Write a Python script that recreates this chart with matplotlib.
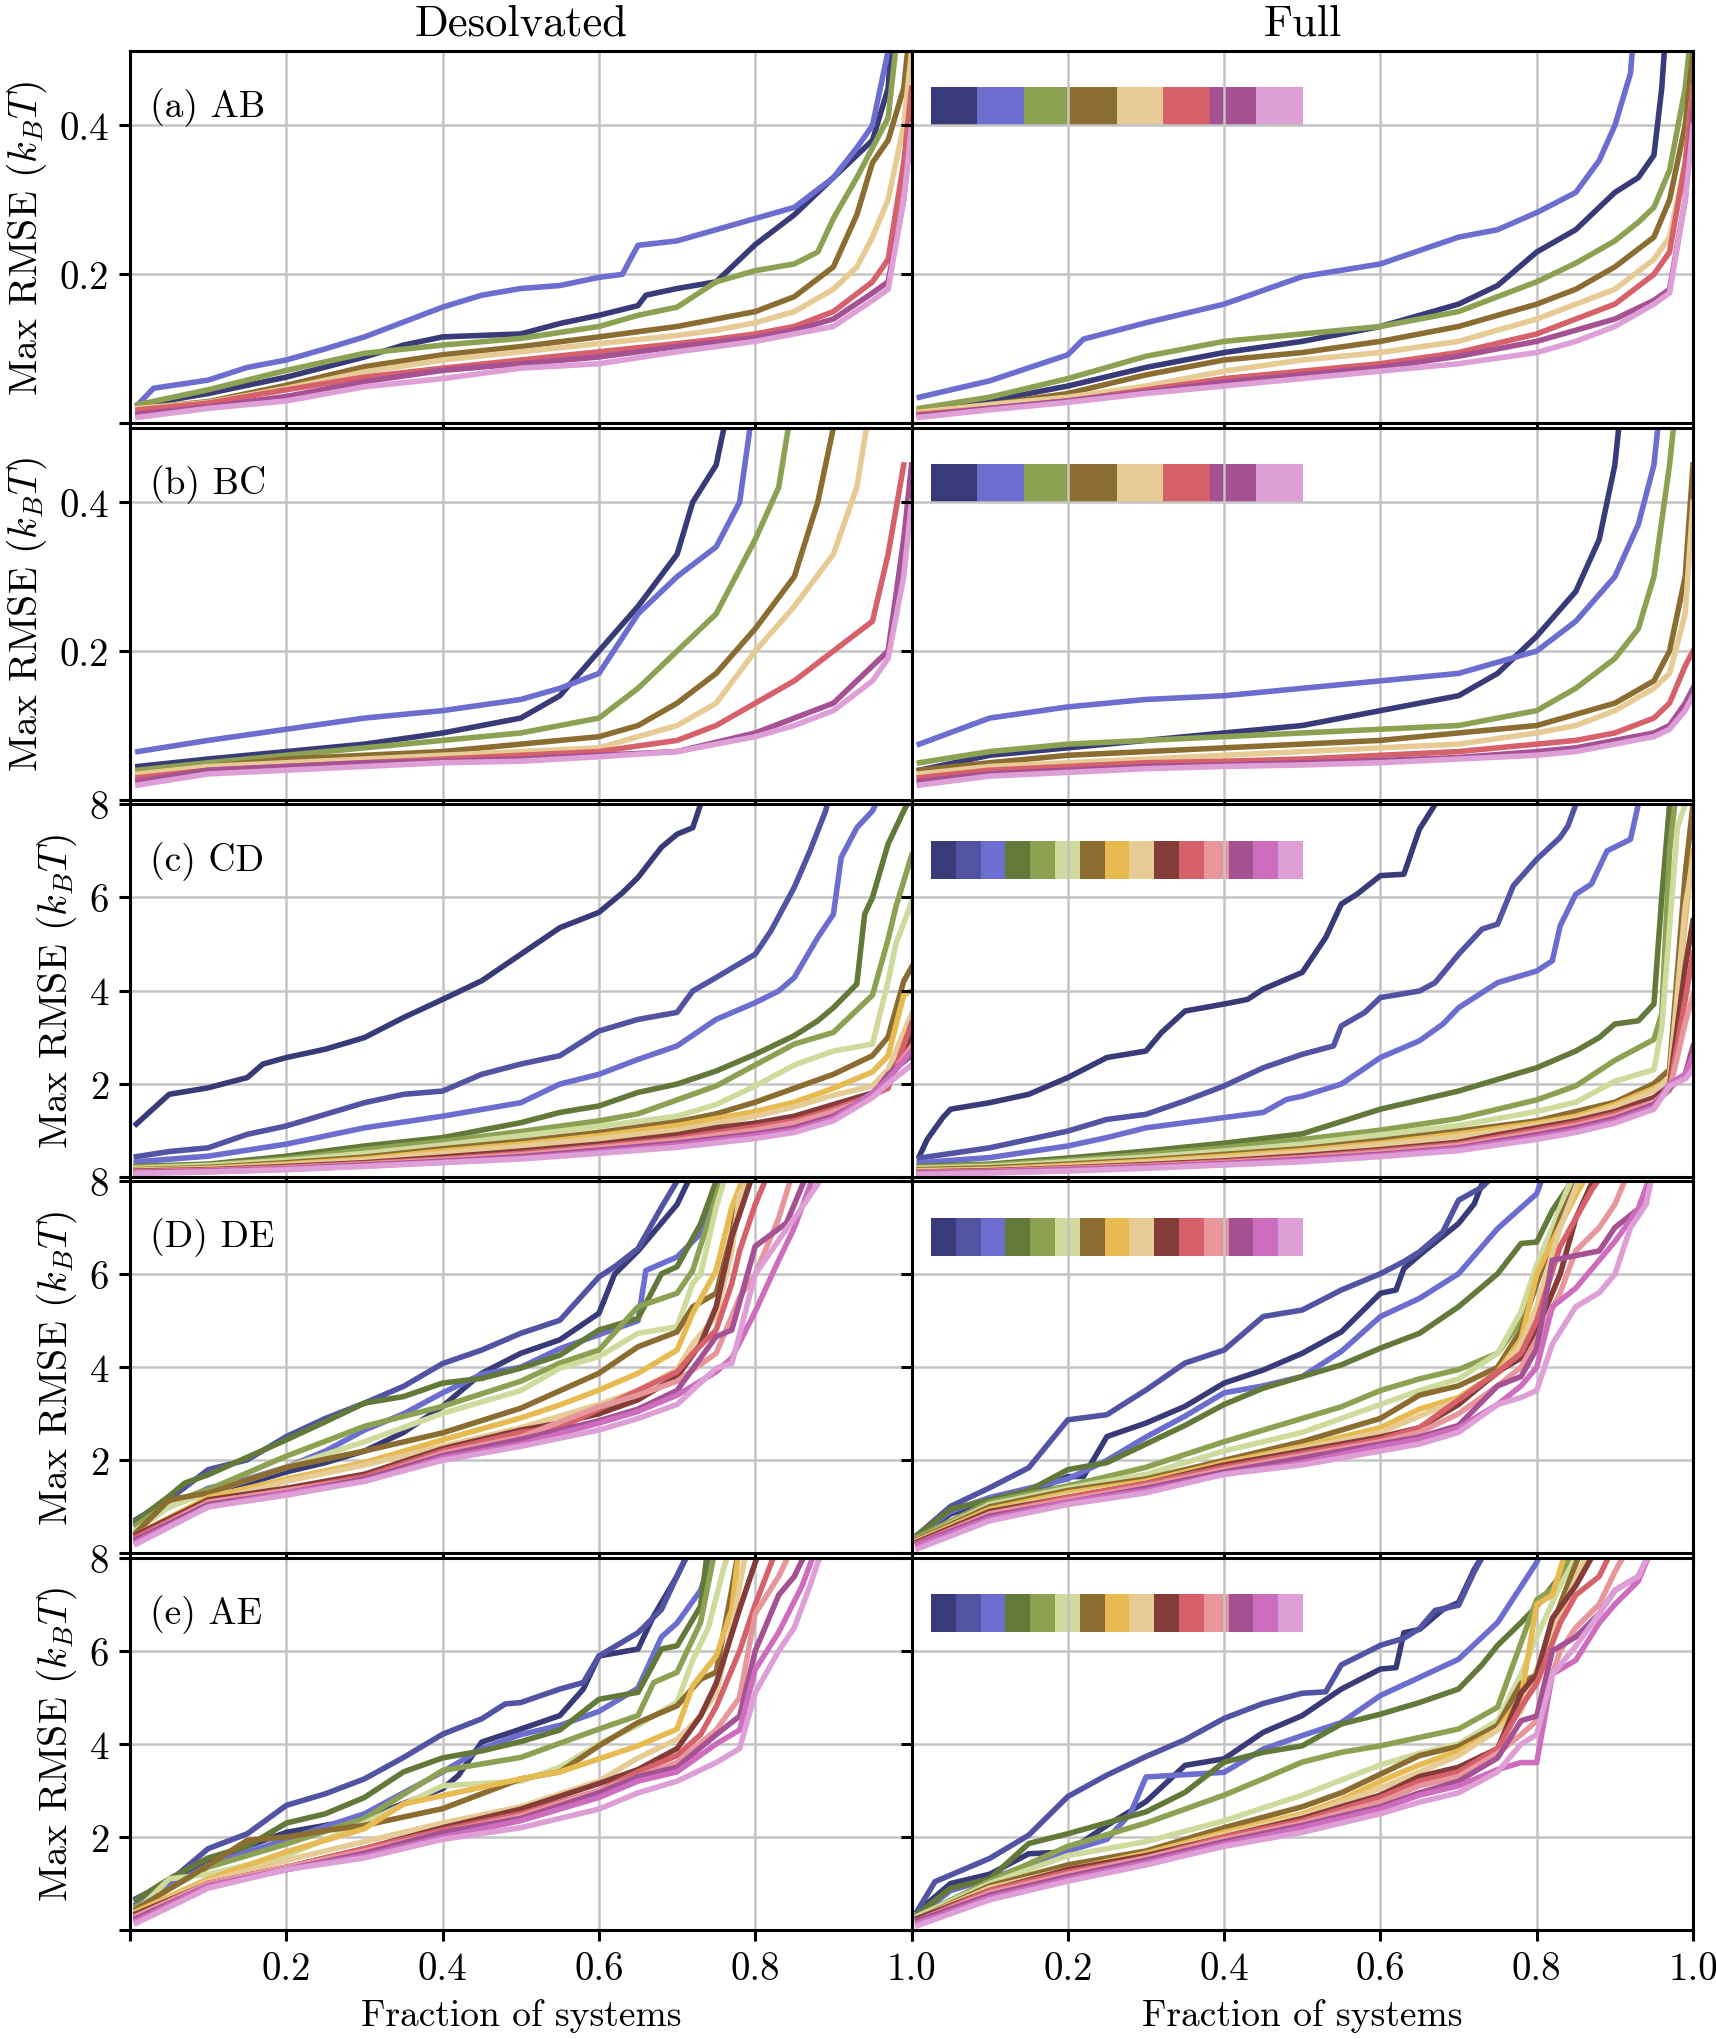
import matplotlib
matplotlib.use('Agg')
import matplotlib.pyplot as plt
from matplotlib.colors import ListedColormap
import numpy as np

## 1. Style
plt.rcParams['font.family'] = 'serif'
plt.rcParams['font.serif'] = ['cmr10', 'DejaVu Serif']
plt.rcParams['mathtext.fontset'] = 'cm'
plt.rcParams['axes.unicode_minus'] = False
plt.rcParams['font.size'] = 13.5

## 2. Data (x = fraction of systems, y = max RMSE)
col_titles = ['Desolvated', 'Full']
row_labels = ['(a) AB', '(b) BC', '(c) CD', '(D) DE', '(e) AE']
ylabel = 'Max RMSE ($k_BT$)'
xlabel = 'Fraction of systems'

# colours come from tab20b
IDX8 = [0, 2, 5, 8, 11, 14, 17, 19]
IDX15 = [0, 1, 2, 4, 5, 7, 8, 10, 11, 12, 14, 15, 17, 18, 19]

AB_DESOLV = [
    [(0.01,0.024),(0.1,0.04),(0.2,0.062),(0.3,0.089),(0.35,0.105),(0.4,0.116),(0.5,0.12),(0.55,0.134),(0.6,0.145),(0.65,0.158),(0.66,0.172),(0.7,0.181),(0.75,0.19),(0.8,0.24),(0.85,0.28),(0.9,0.33),(0.95,0.38),(0.97,0.45),(0.98,0.6)],
    [(0.01,0.025),(0.03,0.047),(0.1,0.058),(0.15,0.075),(0.2,0.085),(0.25,0.10),(0.3,0.116),(0.35,0.136),(0.4,0.156),(0.45,0.172),(0.5,0.181),(0.55,0.185),(0.6,0.196),(0.63,0.2),(0.64,0.22),(0.65,0.239),(0.7,0.245),(0.75,0.26),(0.8,0.275),(0.85,0.29),(0.9,0.33),(0.93,0.37),(0.95,0.40),(0.97,0.5),(0.98,0.6)],
    [(0.01,0.025),(0.1,0.045),(0.2,0.071),(0.3,0.094),(0.4,0.105),(0.5,0.114),(0.6,0.13),(0.65,0.145),(0.7,0.156),(0.75,0.19),(0.8,0.205),(0.85,0.214),(0.88,0.23),(0.9,0.275),(0.93,0.33),(0.95,0.37),(0.97,0.41),(0.99,0.6)],
    [(0.01,0.02),(0.1,0.029),(0.2,0.051),(0.3,0.076),(0.4,0.092),(0.5,0.103),(0.6,0.116),(0.7,0.13),(0.75,0.14),(0.8,0.15),(0.85,0.17),(0.9,0.21),(0.93,0.28),(0.95,0.35),(0.97,0.38),(0.99,0.45),(1.0,0.55)],
    [(0.01,0.02),(0.1,0.028),(0.2,0.047),(0.3,0.069),(0.4,0.085),(0.5,0.096),(0.6,0.107),(0.7,0.118),(0.75,0.125),(0.8,0.135),(0.85,0.15),(0.9,0.18),(0.93,0.21),(0.95,0.25),(0.97,0.30),(0.99,0.40),(1.0,0.5)],
    [(0.01,0.018),(0.1,0.027),(0.2,0.045),(0.3,0.062),(0.4,0.074),(0.5,0.085),(0.6,0.096),(0.7,0.107),(0.75,0.113),(0.8,0.12),(0.85,0.13),(0.9,0.15),(0.95,0.19),(0.97,0.22),(0.99,0.35),(1.0,0.45)],
    [(0.01,0.012),(0.1,0.022),(0.2,0.036),(0.3,0.056),(0.4,0.071),(0.5,0.08),(0.6,0.089),(0.7,0.103),(0.8,0.115),(0.85,0.125),(0.9,0.14),(0.95,0.175),(0.97,0.19),(0.99,0.3),(1.0,0.4)],
    [(0.01,0.008),(0.1,0.02),(0.2,0.03),(0.3,0.049),(0.4,0.06),(0.5,0.074),(0.6,0.08),(0.7,0.096),(0.8,0.11),(0.85,0.12),(0.9,0.13),(0.95,0.165),(0.97,0.18),(0.99,0.3),(1.0,0.4)],
]
AB_FULL = [
    [(0.01,0.015),(0.1,0.03),(0.2,0.05),(0.3,0.075),(0.4,0.095),(0.5,0.11),(0.6,0.13),(0.7,0.16),(0.75,0.185),(0.8,0.23),(0.85,0.26),(0.9,0.31),(0.93,0.33),(0.95,0.36),(0.96,0.45),(0.97,0.6)],
    [(0.01,0.035),(0.1,0.057),(0.2,0.092),(0.22,0.113),(0.3,0.135),(0.4,0.16),(0.5,0.197),(0.6,0.214),(0.7,0.25),(0.75,0.26),(0.8,0.283),(0.85,0.31),(0.88,0.353),(0.9,0.4),(0.92,0.47),(0.93,0.6)],
    [(0.01,0.02),(0.1,0.035),(0.2,0.06),(0.3,0.09),(0.4,0.11),(0.5,0.12),(0.6,0.13),(0.7,0.15),(0.8,0.19),(0.85,0.215),(0.9,0.245),(0.93,0.27),(0.95,0.29),(0.97,0.34),(0.99,0.45),(1.0,0.55)],
    [(0.01,0.015),(0.1,0.025),(0.2,0.04),(0.3,0.065),(0.4,0.085),(0.5,0.095),(0.6,0.11),(0.7,0.13),(0.8,0.16),(0.85,0.18),(0.9,0.21),(0.95,0.25),(0.97,0.3),(0.99,0.4),(1.0,0.5)],
    [(0.01,0.015),(0.1,0.025),(0.2,0.035),(0.3,0.05),(0.4,0.07),(0.5,0.085),(0.6,0.095),(0.7,0.11),(0.8,0.14),(0.85,0.16),(0.9,0.18),(0.95,0.22),(0.97,0.25),(0.99,0.35),(1.0,0.45)],
    [(0.01,0.012),(0.1,0.02),(0.2,0.03),(0.3,0.045),(0.4,0.06),(0.5,0.07),(0.6,0.08),(0.7,0.095),(0.8,0.12),(0.85,0.14),(0.9,0.16),(0.95,0.2),(0.97,0.23),(0.99,0.35),(1.0,0.45)],
    [(0.01,0.01),(0.1,0.02),(0.2,0.03),(0.3,0.042),(0.4,0.055),(0.5,0.065),(0.6,0.075),(0.7,0.09),(0.8,0.11),(0.85,0.125),(0.9,0.14),(0.95,0.165),(0.97,0.18),(0.99,0.3),(1.0,0.42)],
    [(0.01,0.008),(0.1,0.018),(0.2,0.028),(0.3,0.04),(0.4,0.05),(0.5,0.06),(0.6,0.07),(0.7,0.08),(0.8,0.095),(0.85,0.11),(0.9,0.13),(0.95,0.16),(0.97,0.175),(0.99,0.3),(1.0,0.4)],
]
BC_DESOLV = [
    [(0.01,0.045),(0.1,0.055),(0.2,0.065),(0.3,0.075),(0.4,0.09),(0.5,0.11),(0.55,0.14),(0.6,0.2),(0.65,0.26),(0.7,0.33),(0.72,0.4),(0.75,0.45),(0.77,0.55)],
    [(0.01,0.065),(0.1,0.08),(0.2,0.095),(0.3,0.11),(0.4,0.12),(0.5,0.135),(0.55,0.15),(0.6,0.17),(0.65,0.25),(0.7,0.30),(0.75,0.34),(0.78,0.4),(0.8,0.55)],
    [(0.01,0.04),(0.1,0.05),(0.2,0.06),(0.3,0.07),(0.4,0.08),(0.5,0.09),(0.6,0.11),(0.65,0.15),(0.7,0.2),(0.75,0.25),(0.8,0.35),(0.83,0.42),(0.85,0.55)],
    [(0.01,0.035),(0.1,0.045),(0.2,0.055),(0.3,0.06),(0.4,0.065),(0.5,0.075),(0.6,0.085),(0.65,0.1),(0.7,0.13),(0.75,0.17),(0.8,0.23),(0.85,0.3),(0.88,0.4),(0.9,0.5)],
    [(0.01,0.035),(0.1,0.045),(0.2,0.05),(0.3,0.055),(0.4,0.06),(0.5,0.065),(0.6,0.07),(0.7,0.1),(0.75,0.13),(0.8,0.2),(0.85,0.26),(0.9,0.33),(0.93,0.42),(0.95,0.55)],
    [(0.01,0.03),(0.1,0.04),(0.2,0.045),(0.3,0.05),(0.4,0.055),(0.5,0.06),(0.6,0.065),(0.7,0.08),(0.75,0.1),(0.8,0.13),(0.85,0.16),(0.9,0.2),(0.95,0.24),(0.97,0.33),(0.99,0.45)],
    [(0.01,0.025),(0.1,0.04),(0.2,0.045),(0.3,0.05),(0.4,0.052),(0.5,0.055),(0.6,0.06),(0.7,0.065),(0.8,0.09),(0.85,0.11),(0.9,0.13),(0.95,0.18),(0.97,0.2),(0.99,0.35),(1.0,0.45)],
    [(0.01,0.02),(0.1,0.035),(0.2,0.04),(0.3,0.045),(0.4,0.05),(0.5,0.052),(0.6,0.058),(0.7,0.065),(0.8,0.085),(0.85,0.1),(0.9,0.12),(0.95,0.16),(0.97,0.19),(0.99,0.3),(1.0,0.4)],
]
BC_FULL = [
    [(0.01,0.04),(0.1,0.06),(0.2,0.07),(0.3,0.08),(0.4,0.09),(0.5,0.1),(0.6,0.12),(0.7,0.14),(0.75,0.17),(0.8,0.22),(0.85,0.28),(0.88,0.35),(0.9,0.45),(0.91,0.55)],
    [(0.01,0.075),(0.1,0.11),(0.2,0.125),(0.3,0.135),(0.4,0.14),(0.5,0.15),(0.6,0.16),(0.7,0.17),(0.8,0.2),(0.85,0.24),(0.9,0.3),(0.93,0.37),(0.95,0.45),(0.96,0.55)],
    [(0.01,0.05),(0.1,0.065),(0.2,0.075),(0.3,0.08),(0.4,0.085),(0.5,0.09),(0.6,0.095),(0.7,0.1),(0.8,0.12),(0.85,0.15),(0.9,0.19),(0.93,0.23),(0.95,0.3),(0.97,0.45),(0.98,0.55)],
    [(0.01,0.04),(0.1,0.05),(0.2,0.06),(0.3,0.065),(0.4,0.07),(0.5,0.075),(0.6,0.08),(0.7,0.09),(0.8,0.1),(0.85,0.115),(0.9,0.13),(0.95,0.16),(0.97,0.2),(0.99,0.3),(1.0,0.45)],
    [(0.01,0.035),(0.1,0.045),(0.2,0.05),(0.3,0.055),(0.4,0.06),(0.5,0.065),(0.6,0.07),(0.7,0.075),(0.8,0.09),(0.85,0.1),(0.9,0.12),(0.95,0.15),(0.97,0.17),(0.99,0.25),(1.0,0.4)],
    [(0.01,0.03),(0.1,0.04),(0.2,0.045),(0.3,0.05),(0.4,0.052),(0.5,0.055),(0.6,0.06),(0.7,0.065),(0.8,0.075),(0.85,0.08),(0.9,0.09),(0.95,0.11),(0.97,0.13),(0.99,0.18),(1.0,0.2)],
    [(0.01,0.025),(0.1,0.035),(0.2,0.04),(0.3,0.045),(0.4,0.047),(0.5,0.05),(0.6,0.053),(0.7,0.057),(0.8,0.065),(0.85,0.07),(0.9,0.08),(0.95,0.09),(0.97,0.1),(0.99,0.13),(1.0,0.15)],
    [(0.01,0.02),(0.1,0.032),(0.2,0.037),(0.3,0.042),(0.4,0.045),(0.5,0.047),(0.6,0.05),(0.7,0.055),(0.8,0.06),(0.85,0.065),(0.9,0.075),(0.95,0.085),(0.97,0.095),(0.99,0.12),(1.0,0.14)],
]
CD_DESOLV = [
    [(0.008,1.13),(0.05,1.77),(0.1,1.91),(0.15,2.13),(0.17,2.42),(0.2,2.56),(0.25,2.74),(0.3,2.99),(0.35,3.42),(0.4,3.81),(0.45,4.21),(0.5,4.78),(0.55,5.35),(0.6,5.68),(0.63,6.1),(0.65,6.43),(0.68,7.08),(0.7,7.36),(0.72,7.5),(0.73,8.0),(0.75,9.0)],
    [(0.008,0.43),(0.05,0.54),(0.1,0.62),(0.15,0.91),(0.2,1.09),(0.25,1.34),(0.3,1.59),(0.35,1.77),(0.4,1.84),(0.45,2.2),(0.5,2.42),(0.55,2.6),(0.6,3.13),(0.65,3.38),(0.7,3.53),(0.72,3.99),(0.75,4.28),(0.8,4.78),(0.82,5.28),(0.85,6.22),(0.87,7.0),(0.89,7.86),(0.9,8.5)],
    [(0.008,0.32),(0.1,0.44),(0.2,0.7),(0.3,1.05),(0.4,1.3),(0.5,1.59),(0.55,1.99),(0.6,2.2),(0.65,2.52),(0.7,2.81),(0.75,3.38),(0.8,3.74),(0.83,3.99),(0.85,4.28),(0.88,5.14),(0.9,5.64),(0.91,6.86),(0.93,7.5),(0.95,7.86),(0.96,8.2)],
    [(0.008,0.22),(0.1,0.27),(0.2,0.44),(0.3,0.66),(0.4,0.84),(0.5,1.16),(0.55,1.38),(0.6,1.52),(0.65,1.81),(0.7,1.99),(0.75,2.27),(0.8,2.63),(0.85,3.03),(0.88,3.35),(0.9,3.63),(0.93,4.14),(0.94,5.64),(0.95,6.0),(0.97,7.15),(0.99,7.86),(1.0,8.2)],
    [(0.008,0.2),(0.1,0.25),(0.2,0.38),(0.3,0.58),(0.4,0.76),(0.5,0.97),(0.6,1.2),(0.65,1.35),(0.7,1.65),(0.75,1.95),(0.8,2.4),(0.85,2.85),(0.9,3.1),(0.95,3.9),(0.97,5.1),(0.98,5.8),(1.0,6.9)],
    [(0.008,0.18),(0.1,0.24),(0.2,0.35),(0.3,0.5),(0.4,0.68),(0.5,0.88),(0.6,1.08),(0.7,1.3),(0.75,1.55),(0.8,1.95),(0.85,2.4),(0.9,2.7),(0.95,2.85),(0.97,4.2),(0.98,5.0),(1.0,5.9)],
    [(0.008,0.15),(0.1,0.2),(0.2,0.3),(0.3,0.42),(0.4,0.6),(0.5,0.76),(0.6,0.95),(0.7,1.18),(0.75,1.35),(0.8,1.6),(0.85,1.9),(0.9,2.2),(0.95,2.6),(0.97,3.0),(0.99,4.2),(1.0,4.5)],
    [(0.008,0.14),(0.1,0.18),(0.2,0.27),(0.3,0.38),(0.4,0.55),(0.5,0.7),(0.6,0.88),(0.7,1.1),(0.75,1.25),(0.8,1.4),(0.85,1.6),(0.9,1.9),(0.95,2.25),(0.97,2.6),(0.99,3.9),(1.0,4.0)],
    [(0.008,0.13),(0.1,0.17),(0.2,0.25),(0.3,0.35),(0.4,0.5),(0.5,0.65),(0.6,0.82),(0.7,1.0),(0.75,1.15),(0.8,1.3),(0.85,1.5),(0.9,1.75),(0.95,1.95),(0.97,2.3),(1.0,3.5)],
    [(0.008,0.12),(0.1,0.15),(0.2,0.22),(0.3,0.3),(0.4,0.42),(0.5,0.55),(0.6,0.7),(0.7,0.9),(0.75,1.05),(0.8,1.15),(0.85,1.3),(0.9,1.55),(0.95,1.8),(0.97,2.1),(1.0,3.0)],
    [(0.008,0.11),(0.1,0.14),(0.2,0.2),(0.3,0.28),(0.4,0.38),(0.5,0.5),(0.6,0.65),(0.7,0.82),(0.75,0.95),(0.8,1.07),(0.85,1.2),(0.9,1.45),(0.95,1.75),(0.97,1.9),(1.0,3.3)],
    [(0.008,0.1),(0.1,0.13),(0.2,0.19),(0.3,0.27),(0.4,0.36),(0.5,0.47),(0.6,0.62),(0.7,0.78),(0.8,1.0),(0.85,1.15),(0.9,1.4),(0.95,1.7),(0.97,2.1),(1.0,2.8)],
    [(0.008,0.09),(0.1,0.12),(0.2,0.17),(0.3,0.25),(0.4,0.33),(0.5,0.43),(0.6,0.57),(0.7,0.72),(0.8,0.92),(0.85,1.05),(0.9,1.3),(0.95,1.75),(0.97,2.2),(1.0,2.6)],
    [(0.008,0.08),(0.1,0.11),(0.2,0.16),(0.3,0.23),(0.4,0.31),(0.5,0.4),(0.6,0.53),(0.7,0.68),(0.8,0.88),(0.85,1.0),(0.9,1.25),(0.95,1.8),(0.97,2.1),(1.0,2.7)],
    [(0.008,0.07),(0.1,0.1),(0.2,0.15),(0.3,0.22),(0.4,0.3),(0.5,0.38),(0.6,0.5),(0.7,0.63),(0.8,0.82),(0.85,0.95),(0.9,1.2),(0.95,1.7),(0.97,2.0),(1.0,2.4)],
]
CD_FULL = [
    [(0.01,0.44),(0.02,0.8),(0.04,1.27),(0.05,1.45),(0.1,1.59),(0.15,1.77),(0.2,2.13),(0.25,2.56),(0.3,2.7),(0.32,3.1),(0.35,3.56),(0.4,3.71),(0.43,3.81),(0.45,4.03),(0.5,4.39),(0.53,5.14),(0.55,5.86),(0.57,6.07),(0.6,6.47),(0.63,6.5),(0.65,7.47),(0.67,8.0),(0.7,9.0)],
    [(0.01,0.4),(0.1,0.62),(0.2,0.98),(0.25,1.23),(0.3,1.34),(0.35,1.63),(0.4,1.95),(0.45,2.34),(0.5,2.63),(0.54,2.81),(0.55,3.24),(0.58,3.53),(0.6,3.85),(0.65,3.99),(0.67,4.17),(0.7,4.78),(0.73,5.32),(0.75,5.43),(0.77,6.25),(0.8,6.82),(0.83,7.29),(0.84,7.54),(0.85,8.0),(0.87,9.0)],
    [(0.01,0.3),(0.1,0.41),(0.2,0.66),(0.25,0.84),(0.3,1.05),(0.4,1.27),(0.45,1.38),(0.48,1.66),(0.5,1.73),(0.55,1.99),(0.6,2.56),(0.65,2.92),(0.68,3.28),(0.7,3.63),(0.75,4.17),(0.8,4.42),(0.82,4.64),(0.83,5.39),(0.85,6.07),(0.87,6.29),(0.89,7.0),(0.92,7.25),(0.93,8.0),(0.95,9.0)],
    [(0.01,0.22),(0.1,0.27),(0.2,0.4),(0.3,0.55),(0.4,0.72),(0.5,0.92),(0.6,1.45),(0.7,1.84),(0.8,2.34),(0.85,2.7),(0.88,2.99),(0.9,3.28),(0.93,3.35),(0.95,3.71),(0.96,6.0),(0.97,8.0),(0.98,9.0)],
    [(0.01,0.2),(0.1,0.25),(0.2,0.35),(0.3,0.48),(0.4,0.62),(0.5,0.8),(0.6,1.0),(0.7,1.25),(0.8,1.65),(0.85,1.95),(0.9,2.5),(0.95,2.95),(0.96,3.5),(0.97,7.0),(0.98,8.5)],
    [(0.01,0.18),(0.1,0.22),(0.2,0.32),(0.3,0.42),(0.4,0.55),(0.5,0.7),(0.6,0.9),(0.7,1.1),(0.8,1.4),(0.85,1.6),(0.9,2.05),(0.95,2.3),(0.96,3.2),(0.98,7.5),(1.0,8.5)],
    [(0.01,0.15),(0.1,0.19),(0.2,0.27),(0.3,0.36),(0.4,0.48),(0.5,0.6),(0.6,0.78),(0.7,0.98),(0.8,1.2),(0.85,1.4),(0.9,1.6),(0.95,2.0),(0.97,2.3),(0.99,6.5),(1.0,8.0)],
    [(0.01,0.13),(0.1,0.16),(0.2,0.24),(0.3,0.33),(0.4,0.44),(0.5,0.56),(0.6,0.72),(0.7,0.92),(0.8,1.15),(0.85,1.3),(0.9,1.55),(0.95,1.9),(0.97,2.1),(0.99,5.5),(1.0,7.0)],
    [(0.01,0.12),(0.1,0.15),(0.2,0.22),(0.3,0.3),(0.4,0.4),(0.5,0.52),(0.6,0.68),(0.7,0.86),(0.8,1.1),(0.85,1.25),(0.9,1.5),(0.95,1.85),(0.97,2.1),(0.99,5.8),(1.0,6.8)],
    [(0.01,0.1),(0.1,0.13),(0.2,0.19),(0.3,0.26),(0.4,0.34),(0.5,0.45),(0.6,0.58),(0.7,0.74),(0.75,0.9),(0.8,1.05),(0.85,1.2),(0.9,1.4),(0.95,1.7),(0.97,1.95),(0.99,4.5),(1.0,5.5)],
    [(0.01,0.1),(0.1,0.12),(0.2,0.18),(0.3,0.24),(0.4,0.32),(0.5,0.42),(0.6,0.55),(0.7,0.7),(0.8,1.0),(0.85,1.15),(0.9,1.35),(0.95,1.6),(0.97,1.9),(0.99,3.8),(1.0,4.8)],
    [(0.01,0.09),(0.1,0.11),(0.2,0.17),(0.3,0.23),(0.4,0.3),(0.5,0.4),(0.6,0.52),(0.7,0.67),(0.8,0.95),(0.85,1.1),(0.9,1.3),(0.95,1.6),(0.97,1.85),(0.99,3.3),(1.0,3.9)],
    [(0.01,0.08),(0.1,0.1),(0.2,0.15),(0.3,0.21),(0.4,0.28),(0.5,0.37),(0.6,0.48),(0.7,0.62),(0.8,0.9),(0.85,1.05),(0.9,1.25),(0.95,1.55),(0.97,1.9),(0.99,2.2),(1.0,2.8)],
    [(0.01,0.07),(0.1,0.09),(0.2,0.14),(0.3,0.2),(0.4,0.27),(0.5,0.35),(0.6,0.46),(0.7,0.6),(0.8,0.85),(0.85,1.0),(0.9,1.2),(0.95,1.5),(0.97,2.0),(0.99,2.2),(1.0,2.6)],
    [(0.01,0.05),(0.1,0.08),(0.2,0.12),(0.3,0.18),(0.4,0.25),(0.5,0.32),(0.6,0.43),(0.7,0.56),(0.8,0.8),(0.85,0.95),(0.9,1.15),(0.95,1.45),(0.97,1.95),(0.99,2.1),(1.0,2.3)],
]
DE_DESOLV = [
    [(0.008,0.65),(0.05,1.0),(0.1,1.35),(0.15,1.5),(0.2,1.75),(0.25,1.95),(0.3,2.2),(0.35,2.6),(0.4,3.16),(0.45,3.87),(0.5,4.3),(0.55,4.59),(0.6,5.16),(0.62,6.0),(0.65,6.5),(0.68,7.1),(0.7,7.5),(0.72,8.2)],
    [(0.008,0.73),(0.05,1.16),(0.1,1.8),(0.15,2.01),(0.2,2.51),(0.25,2.9),(0.3,3.23),(0.35,3.59),(0.4,4.08),(0.45,4.37),(0.5,4.73),(0.55,5.01),(0.6,5.94),(0.62,6.16),(0.65,6.55),(0.68,7.44),(0.7,8.0),(0.72,8.5)],
    [(0.008,0.6),(0.05,1.0),(0.1,1.4),(0.15,1.6),(0.2,1.85),(0.25,2.2),(0.3,2.65),(0.35,3.0),(0.4,3.45),(0.45,3.85),(0.5,4.0),(0.55,4.4),(0.6,4.7),(0.65,5.0),(0.66,6.08),(0.7,6.37),(0.73,6.87),(0.75,7.94),(0.76,8.3)],
    [(0.008,0.7),(0.05,1.23),(0.07,1.51),(0.1,1.69),(0.2,2.44),(0.25,2.83),(0.3,3.23),(0.35,3.37),(0.4,3.66),(0.45,3.76),(0.5,3.98),(0.55,4.26),(0.6,4.8),(0.65,5.05),(0.68,6.01),(0.7,6.16),(0.73,7.08),(0.75,8.0),(0.76,8.3)],
    [(0.008,0.6),(0.05,1.09),(0.1,1.37),(0.2,2.09),(0.3,2.73),(0.4,3.16),(0.5,3.7),(0.55,4.09),(0.6,4.37),(0.65,5.3),(0.7,5.59),(0.72,6.08),(0.75,7.66),(0.76,8.2)],
    [(0.008,0.5),(0.05,1.0),(0.1,1.3),(0.2,1.85),(0.3,2.4),(0.4,3.01),(0.5,3.5),(0.55,3.98),(0.6,4.23),(0.65,4.73),(0.7,4.87),(0.72,5.8),(0.73,6.0),(0.75,7.44),(0.76,8.0),(0.77,8.3)],
    [(0.008,0.45),(0.05,1.15),(0.1,1.3),(0.2,1.85),(0.3,2.2),(0.4,2.59),(0.5,3.12),(0.6,3.87),(0.65,4.44),(0.7,4.76),(0.72,5.3),(0.75,5.59),(0.77,6.87),(0.78,7.8),(0.8,8.3)],
    [(0.008,0.4),(0.1,1.2),(0.2,1.6),(0.3,1.95),(0.4,2.44),(0.5,2.91),(0.55,3.19),(0.6,3.51),(0.65,3.87),(0.7,4.37),(0.72,5.16),(0.75,6.08),(0.77,7.44),(0.78,7.87),(0.79,8.3)],
    [(0.008,0.3),(0.1,1.1),(0.2,1.55),(0.3,1.9),(0.4,2.3),(0.5,2.7),(0.6,3.2),(0.65,3.5),(0.7,3.95),(0.72,4.5),(0.75,5.1),(0.77,6.5),(0.78,7.7),(0.8,8.3)],
    [(0.008,0.4),(0.1,1.15),(0.2,1.4),(0.3,1.7),(0.4,2.25),(0.5,2.65),(0.55,2.8),(0.6,3.0),(0.65,3.3),(0.7,3.8),(0.73,4.5),(0.75,5.3),(0.77,6.8),(0.78,7.3),(0.8,8.3)],
    [(0.008,0.35),(0.1,1.1),(0.2,1.35),(0.3,1.65),(0.4,2.2),(0.5,2.6),(0.55,2.7),(0.6,3.1),(0.65,3.5),(0.7,3.9),(0.72,4.3),(0.75,4.8),(0.77,5.8),(0.78,6.5),(0.8,7.5),(0.82,8.3)],
    [(0.008,0.3),(0.1,1.1),(0.2,1.35),(0.3,1.6),(0.4,2.15),(0.5,2.5),(0.6,3.15),(0.65,3.4),(0.7,3.7),(0.75,4.3),(0.78,5.5),(0.8,6.0),(0.83,7.2),(0.85,8.3)],
    [(0.008,0.3),(0.1,1.05),(0.2,1.3),(0.3,1.6),(0.4,2.1),(0.5,2.45),(0.6,2.85),(0.65,3.1),(0.7,3.5),(0.75,4.66),(0.77,4.8),(0.8,6.6),(0.84,7.1),(0.87,8.3)],
    [(0.008,0.25),(0.1,1.0),(0.2,1.3),(0.3,1.55),(0.4,2.05),(0.5,2.35),(0.6,2.8),(0.65,3.05),(0.7,3.4),(0.75,3.9),(0.77,4.2),(0.8,5.2),(0.83,6.3),(0.85,7.0),(0.87,7.9),(0.88,8.3)],
    [(0.008,0.2),(0.1,1.0),(0.2,1.25),(0.3,1.55),(0.4,2.0),(0.5,2.3),(0.6,2.65),(0.65,2.9),(0.7,3.2),(0.75,3.98),(0.77,4.08),(0.8,6.0),(0.83,6.73),(0.86,7.44),(0.88,7.94),(0.89,8.3)],
]
DE_FULL = [
    [(0.008,0.35),(0.05,0.85),(0.1,1.1),(0.15,1.3),(0.2,1.65),(0.22,1.65),(0.25,2.51),(0.3,2.8),(0.35,3.16),(0.4,3.66),(0.45,3.94),(0.5,4.3),(0.55,4.76),(0.6,5.59),(0.62,5.66),(0.63,6.12),(0.65,6.41),(0.7,7.09),(0.72,7.51),(0.73,7.94),(0.75,8.3)],
    [(0.008,0.4),(0.05,1.01),(0.1,1.41),(0.15,1.84),(0.2,2.87),(0.25,2.98),(0.28,3.3),(0.3,3.51),(0.35,4.09),(0.4,4.37),(0.45,5.09),(0.5,5.23),(0.55,5.66),(0.6,6.01),(0.63,6.27),(0.65,6.48),(0.68,6.91),(0.7,7.59),(0.73,7.87),(0.75,8.2)],
    [(0.008,0.4),(0.05,0.9),(0.1,1.2),(0.2,1.6),(0.25,2.0),(0.3,2.5),(0.35,2.95),(0.4,3.45),(0.45,3.6),(0.5,3.8),(0.55,4.34),(0.6,5.09),(0.65,5.48),(0.7,6.01),(0.75,6.98),(0.8,7.73),(0.81,8.2)],
    [(0.008,0.4),(0.05,0.95),(0.1,1.15),(0.15,1.35),(0.2,1.8),(0.25,1.95),(0.3,2.35),(0.35,2.75),(0.4,3.2),(0.45,3.55),(0.5,3.8),(0.55,4.05),(0.6,4.41),(0.65,4.73),(0.7,5.3),(0.75,6.01),(0.78,6.66),(0.8,6.69),(0.82,7.37),(0.84,7.87),(0.85,8.3)],
    [(0.008,0.35),(0.1,1.1),(0.2,1.45),(0.3,1.85),(0.4,2.4),(0.5,2.9),(0.55,3.15),(0.6,3.5),(0.65,3.75),(0.7,3.95),(0.75,4.3),(0.78,5.0),(0.8,6.0),(0.82,6.9),(0.84,7.5),(0.86,8.3)],
    [(0.008,0.3),(0.1,1.05),(0.2,1.4),(0.3,1.7),(0.4,2.2),(0.5,2.6),(0.6,3.2),(0.65,3.5),(0.7,3.75),(0.75,4.3),(0.78,5.2),(0.8,6.2),(0.82,7.0),(0.85,8.3)],
    [(0.008,0.3),(0.1,1.0),(0.2,1.35),(0.3,1.6),(0.4,2.0),(0.5,2.4),(0.6,2.9),(0.65,3.4),(0.7,3.6),(0.75,4.0),(0.78,4.8),(0.8,5.8),(0.83,7.2),(0.86,8.3)],
    [(0.008,0.28),(0.1,0.95),(0.2,1.3),(0.3,1.55),(0.4,1.95),(0.5,2.3),(0.6,2.7),(0.65,3.1),(0.7,3.35),(0.75,3.9),(0.78,4.6),(0.8,6.0),(0.82,6.7),(0.85,7.7),(0.87,8.3)],
    [(0.008,0.27),(0.1,0.9),(0.2,1.25),(0.3,1.5),(0.4,1.9),(0.5,2.25),(0.6,2.6),(0.65,2.95),(0.7,3.3),(0.75,3.85),(0.78,4.5),(0.8,5.3),(0.83,7.0),(0.86,8.3)],
    [(0.008,0.25),(0.1,0.9),(0.2,1.2),(0.3,1.5),(0.4,1.9),(0.5,2.2),(0.6,2.5),(0.65,2.7),(0.7,3.2),(0.75,3.9),(0.78,4.2),(0.8,4.8),(0.83,6.0),(0.85,7.2),(0.88,8.3)],
    [(0.008,0.22),(0.1,0.85),(0.2,1.2),(0.3,1.5),(0.4,1.85),(0.5,2.15),(0.6,2.45),(0.65,2.7),(0.7,3.3),(0.75,3.9),(0.78,4.3),(0.8,5.0),(0.83,6.6),(0.85,7.2),(0.87,7.8),(0.89,8.3)],
    [(0.008,0.2),(0.1,0.85),(0.2,1.15),(0.3,1.45),(0.4,1.8),(0.5,2.1),(0.6,2.4),(0.65,2.6),(0.7,3.0),(0.75,3.6),(0.78,4.0),(0.8,4.6),(0.83,5.6),(0.85,6.5),(0.88,7.0),(0.9,7.5),(0.92,8.3)],
    [(0.008,0.2),(0.1,0.8),(0.2,1.1),(0.3,1.4),(0.4,1.75),(0.5,2.05),(0.6,2.35),(0.65,2.5),(0.7,2.75),(0.75,3.6),(0.78,3.8),(0.8,4.4),(0.82,6.3),(0.85,6.4),(0.88,6.5),(0.9,7.0),(0.93,7.4),(0.95,8.3)],
    [(0.008,0.18),(0.1,0.75),(0.2,1.1),(0.3,1.35),(0.4,1.7),(0.5,1.95),(0.6,2.3),(0.65,2.45),(0.7,2.7),(0.75,3.2),(0.78,3.6),(0.8,4.0),(0.82,5.3),(0.85,5.7),(0.9,6.7),(0.93,7.4),(0.95,8.3)],
    [(0.008,0.1),(0.1,0.7),(0.2,1.05),(0.3,1.3),(0.4,1.7),(0.5,1.9),(0.6,2.2),(0.65,2.35),(0.7,2.6),(0.75,3.2),(0.78,3.35),(0.8,3.5),(0.82,4.5),(0.85,5.3),(0.88,5.6),(0.9,6.0),(0.92,7.0),(0.94,7.5),(0.95,8.3)],
]
AE_DESOLV = [
    [(0.008,0.65),(0.1,1.5),(0.2,2.1),(0.3,2.4),(0.4,3.04),(0.42,3.32),(0.45,4.04),(0.5,4.32),(0.55,4.61),(0.58,5.18),(0.6,5.89),(0.65,6.04),(0.67,6.75),(0.7,7.61),(0.72,8.3)],
    [(0.008,0.68),(0.05,1.04),(0.1,1.75),(0.15,2.07),(0.2,2.68),(0.25,2.93),(0.3,3.25),(0.35,3.71),(0.4,4.21),(0.45,4.54),(0.48,4.86),(0.5,4.89),(0.55,5.18),(0.58,5.32),(0.6,5.89),(0.65,6.39),(0.68,6.89),(0.7,7.61),(0.72,8.3)],
    [(0.008,0.55),(0.1,1.4),(0.2,1.95),(0.3,2.5),(0.35,2.95),(0.4,3.4),(0.45,3.9),(0.5,4.2),(0.55,4.4),(0.6,4.7),(0.65,5.2),(0.68,6.3),(0.7,6.6),(0.73,7.3),(0.75,8.3)],
    [(0.008,0.65),(0.05,1.1),(0.1,1.55),(0.15,1.8),(0.2,2.3),(0.25,2.5),(0.3,2.85),(0.35,3.4),(0.4,3.7),(0.45,3.85),(0.5,4.05),(0.55,4.3),(0.6,4.96),(0.65,5.11),(0.68,6.04),(0.7,6.11),(0.73,6.96),(0.74,8.3)],
    [(0.008,0.5),(0.1,1.35),(0.2,1.85),(0.3,2.4),(0.4,3.43),(0.5,3.71),(0.6,4.32),(0.65,4.61),(0.67,5.32),(0.7,5.54),(0.73,6.61),(0.75,8.3)],
    [(0.008,0.4),(0.05,1.1),(0.1,1.2),(0.2,1.6),(0.3,2.3),(0.4,3.1),(0.5,3.2),(0.55,3.5),(0.6,4.0),(0.65,4.4),(0.7,4.9),(0.72,5.8),(0.74,6.5),(0.76,7.8),(0.77,8.3)],
    [(0.008,0.45),(0.1,1.39),(0.15,1.93),(0.2,2.0),(0.25,2.14),(0.3,2.25),(0.4,2.61),(0.5,3.25),(0.55,3.4),(0.6,3.96),(0.65,4.46),(0.7,4.82),(0.73,5.39),(0.75,5.54),(0.77,7.32),(0.78,8.3)],
    [(0.008,0.4),(0.1,1.1),(0.2,1.68),(0.3,2.18),(0.35,2.71),(0.4,2.89),(0.5,3.25),(0.55,3.4),(0.6,3.68),(0.65,3.96),(0.7,4.32),(0.72,5.25),(0.75,5.89),(0.77,6.89),(0.78,8.3)],
    [(0.008,0.35),(0.1,1.05),(0.2,1.5),(0.3,1.9),(0.4,2.3),(0.5,2.65),(0.6,3.2),(0.65,3.7),(0.7,4.1),(0.73,4.6),(0.75,5.1),(0.77,6.5),(0.79,8.3)],
    [(0.008,0.35),(0.1,1.0),(0.2,1.35),(0.3,1.75),(0.4,2.2),(0.5,2.6),(0.6,3.15),(0.65,3.45),(0.7,3.9),(0.73,4.6),(0.75,5.3),(0.78,6.9),(0.8,7.9),(0.81,8.3)],
    [(0.008,0.3),(0.1,1.0),(0.2,1.35),(0.3,1.75),(0.4,2.15),(0.5,2.5),(0.6,3.0),(0.65,3.4),(0.7,3.75),(0.73,4.2),(0.75,4.8),(0.78,6.0),(0.8,7.0),(0.83,8.3)],
    [(0.008,0.3),(0.1,1.0),(0.2,1.35),(0.3,1.7),(0.4,2.1),(0.5,2.45),(0.6,3.0),(0.65,3.3),(0.7,3.6),(0.75,4.3),(0.78,5.0),(0.8,6.8),(0.83,7.6),(0.85,8.3)],
    [(0.008,0.25),(0.1,0.95),(0.2,1.3),(0.3,1.65),(0.4,2.1),(0.5,2.4),(0.6,2.95),(0.65,3.3),(0.7,3.5),(0.75,4.2),(0.78,4.6),(0.8,6.0),(0.83,7.2),(0.85,7.6),(0.87,8.3)],
    [(0.008,0.2),(0.1,0.95),(0.2,1.3),(0.3,1.6),(0.4,2.0),(0.5,2.35),(0.6,2.85),(0.65,3.2),(0.7,3.4),(0.75,4.0),(0.78,4.3),(0.8,5.6),(0.83,6.4),(0.86,7.4),(0.88,8.3)],
    [(0.008,0.15),(0.1,0.9),(0.2,1.3),(0.3,1.55),(0.4,1.95),(0.5,2.2),(0.6,2.6),(0.65,2.95),(0.7,3.2),(0.75,3.6),(0.78,3.9),(0.8,5.1),(0.83,6.0),(0.85,6.5),(0.87,7.4),(0.88,7.9),(0.89,8.3)],
]
AE_FULL = [
    [(0.008,0.4),(0.05,1.0),(0.1,1.2),(0.15,1.64),(0.2,1.68),(0.25,2.25),(0.3,2.76),(0.35,3.54),(0.4,3.68),(0.45,4.25),(0.5,4.61),(0.55,5.18),(0.6,5.61),(0.62,5.64),(0.63,6.39),(0.65,6.46),(0.68,6.89),(0.7,7.04),(0.72,7.75),(0.74,8.3)],
    [(0.008,0.43),(0.03,1.04),(0.1,1.54),(0.15,2.04),(0.2,2.87),(0.25,3.33),(0.3,3.73),(0.35,4.09),(0.4,4.55),(0.45,4.87),(0.5,5.09),(0.53,5.12),(0.55,5.7),(0.58,5.95),(0.6,6.12),(0.63,6.27),(0.65,6.48),(0.67,6.87),(0.7,6.98),(0.72,7.7),(0.73,8.0),(0.75,8.3)],
    [(0.008,0.3),(0.05,0.85),(0.1,1.1),(0.2,1.7),(0.25,1.95),(0.28,2.5),(0.3,3.29),(0.4,3.39),(0.45,3.89),(0.5,4.18),(0.55,4.46),(0.6,5.04),(0.65,5.43),(0.7,5.82),(0.75,6.61),(0.8,7.9),(0.81,8.3)],
    [(0.008,0.35),(0.05,0.9),(0.1,1.1),(0.15,1.86),(0.2,2.07),(0.3,2.54),(0.35,2.96),(0.4,3.61),(0.45,3.82),(0.5,3.96),(0.55,4.43),(0.6,4.64),(0.65,4.89),(0.7,5.18),(0.73,5.7),(0.75,6.12),(0.78,6.61),(0.8,6.96),(0.83,7.61),(0.85,8.3)],
    [(0.008,0.3),(0.1,1.05),(0.2,1.8),(0.3,2.3),(0.4,2.9),(0.45,3.25),(0.5,3.61),(0.55,3.82),(0.6,3.96),(0.7,4.32),(0.75,4.79),(0.8,7.1),(0.82,7.32),(0.85,8.3)],
    [(0.008,0.3),(0.1,1.0),(0.2,1.6),(0.3,1.9),(0.4,2.35),(0.5,2.9),(0.6,3.55),(0.65,3.8),(0.7,4.0),(0.75,4.5),(0.78,5.5),(0.8,6.3),(0.83,7.4),(0.86,8.3)],
    [(0.008,0.25),(0.1,0.95),(0.2,1.4),(0.3,1.7),(0.4,2.2),(0.5,2.65),(0.55,2.95),(0.6,3.35),(0.65,3.75),(0.7,3.95),(0.75,4.4),(0.78,5.3),(0.8,5.5),(0.83,7.0),(0.86,8.3)],
    [(0.008,0.25),(0.1,0.9),(0.2,1.3),(0.3,1.65),(0.4,2.1),(0.5,2.5),(0.55,2.8),(0.6,3.2),(0.65,3.55),(0.7,3.85),(0.75,4.3),(0.78,5.0),(0.8,7.0),(0.82,7.2),(0.84,8.3)],
    [(0.008,0.25),(0.1,0.9),(0.2,1.3),(0.3,1.6),(0.4,2.05),(0.5,2.45),(0.6,3.05),(0.65,3.4),(0.7,3.75),(0.75,4.3),(0.78,4.7),(0.8,5.6),(0.83,6.8),(0.87,8.3)],
    [(0.008,0.25),(0.1,0.85),(0.2,1.3),(0.3,1.6),(0.4,2.0),(0.5,2.4),(0.6,2.9),(0.65,3.3),(0.7,3.5),(0.75,3.9),(0.78,5.1),(0.8,5.5),(0.82,6.7),(0.85,7.4),(0.88,8.3)],
    [(0.008,0.2),(0.1,0.85),(0.2,1.25),(0.3,1.55),(0.4,2.0),(0.5,2.35),(0.6,2.85),(0.65,3.2),(0.7,3.4),(0.75,3.9),(0.78,4.8),(0.8,5.3),(0.83,6.6),(0.85,7.2),(0.88,7.6),(0.9,8.3)],
    [(0.008,0.2),(0.1,0.8),(0.2,1.2),(0.3,1.55),(0.4,1.95),(0.5,2.3),(0.6,2.75),(0.65,3.1),(0.7,3.3),(0.75,3.8),(0.78,4.2),(0.8,4.5),(0.83,6.0),(0.85,6.5),(0.88,7.0),(0.9,7.7),(0.92,8.3)],
    [(0.008,0.2),(0.1,0.75),(0.2,1.15),(0.3,1.5),(0.4,1.9),(0.5,2.25),(0.6,2.65),(0.65,2.95),(0.7,3.2),(0.75,3.7),(0.78,4.5),(0.8,4.6),(0.82,6.0),(0.85,6.3),(0.88,6.8),(0.9,7.3),(0.93,7.6),(0.95,8.3)],
    [(0.008,0.15),(0.1,0.7),(0.2,1.1),(0.3,1.45),(0.4,1.85),(0.5,2.2),(0.6,2.6),(0.65,2.9),(0.7,3.1),(0.75,3.45),(0.78,3.6),(0.8,3.6),(0.82,5.5),(0.85,5.8),(0.88,6.6),(0.9,7.0),(0.93,7.5),(0.95,8.3)],
    [(0.008,0.1),(0.1,0.65),(0.2,1.05),(0.3,1.4),(0.4,1.8),(0.5,2.1),(0.6,2.5),(0.65,2.75),(0.7,2.95),(0.75,3.4),(0.78,4.0),(0.8,4.2),(0.82,5.5),(0.85,6.1),(0.88,6.8),(0.9,7.3),(0.93,7.6),(0.95,8.3)],
]

panels = [(AB_DESOLV, AB_FULL), (BC_DESOLV, BC_FULL), (CD_DESOLV, CD_FULL),
          (DE_DESOLV, DE_FULL), (AE_DESOLV, AE_FULL)]
ylims = [0.5, 0.5, 8, 8, 8]
yticks_small = [0, 0.2, 0.4]
yticks_big = [0, 2, 4, 6, 8]
xticks = [0, 0.2, 0.4, 0.6, 0.8, 1.0]

## 3. Plot
tab20b = plt.get_cmap('tab20b').colors
fig, axes = plt.subplots(5, 2, figsize=(8.58, 10.2), dpi=200,
                         gridspec_kw=dict(left=0.0758, right=0.9866, top=0.9745,
                                          bottom=0.0534, hspace=0.012, wspace=0.0))

for r, (pair, ymax) in enumerate(zip(panels, ylims)):
    for c, lines in enumerate(pair):
        ax = axes[r, c]
        idx = IDX8 if len(lines) == 8 else IDX15
        colors = [tab20b[i] for i in idx]
        for line, col in zip(lines, colors):
            xs = [p[0] for p in line]
            ys = [p[1] for p in line]
            ax.plot(xs, ys, color=col, lw=2.0, solid_joinstyle='round')
        ax.set_xlim(0, 1)
        ax.set_ylim(0, ymax)
        ax.grid(True, color='#c4c4c4', lw=0.9)
        for sp in ax.spines.values():
            sp.set_linewidth(1.1)

        ax.set_xticks(xticks)
        if r == 4:
            ax.set_xticklabels([''] + ['%.1f' % t for t in xticks[1:]])
            ax.set_xlabel(xlabel, fontsize=13.5, labelpad=4)
        else:
            ax.set_xticklabels([])

        yt = yticks_small if ymax < 1 else yticks_big
        ax.set_yticks(yt)
        if c == 0:
            if ymax < 1:
                ax.set_yticklabels([''] + ['%.1f' % t for t in yt[1:]])
            else:
                ax.set_yticklabels([''] + ['%d' % t for t in yt[1:]])
            ax.set_ylabel(ylabel, fontsize=14.3, labelpad=4)
            ax.text(0.025, 0.85, row_labels[r], transform=ax.transAxes,
                    ha='left', va='center', fontsize=13.5)
        else:
            ax.set_yticklabels([])
            # colour strip
            ax.imshow(np.arange(len(colors)).reshape(1, -1), cmap=ListedColormap(colors),
                      extent=[0.025, 0.5, 0.8, 0.9], transform=ax.transAxes,
                      aspect='auto', zorder=0, interpolation='nearest')
            ax.set_xlim(0, 1)
            ax.set_ylim(0, ymax)
        ax.tick_params(direction='out', length=4, width=1.1, labelsize=14)
        if r == 0:
            ax.set_title(col_titles[c], fontsize=16)

plt.savefig('out.png', dpi=200)
